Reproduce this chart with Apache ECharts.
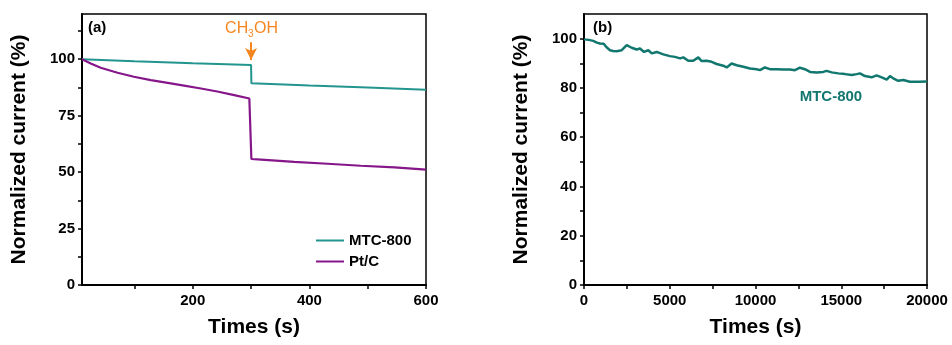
<!DOCTYPE html>
<html>
<head>
<meta charset="utf-8">
<script src="https://cdn.jsdelivr.net/npm/echarts@6/dist/echarts.min.js"></script>
<style>
  html, body { margin: 0; padding: 0; background: #fff; }
  #chart { width: 952px; height: 345px; }
</style>
</head>
<body>
<div id="chart"></div>
<script>
// panel (a): chronoamperometry with CH3OH added at 300 s
const mtcA = [[10, 100], [100, 99.1], [200, 98.2], [300, 97.4], [300.5, 89.3],
  [400, 88.3], [500, 87.4], [600, 86.5]]
const ptcA = [[10, 100], [25, 98.1], [42, 96.2], [71, 94.0], [99, 92.2], [128, 90.7],
  [157, 89.5], [185, 88.3], [214, 87.0], [242, 85.7], [271, 84.1], [297, 82.6],
  [300, 82.4], [300.5, 55.8], [317, 55.5], [374, 54.5], [431, 53.7], [488, 52.8],
  [546, 52.1], [600, 51.1]]
const xLabelsA = [200, 400, 600]
const xTicksA = [100, 200, 300, 400, 500, 600]
const yLabelsA = [0, 25, 50, 75, 100]
const yTicksA = [0, 12.5, 25, 37.5, 50, 62.5, 75, 87.5, 100, 112.5]

// panel (b): long-term stability of MTC-800
const mtcB = [[0, 99.7], [270, 99.5], [540, 99.1], [750, 98.4], [930, 98.0], [1150, 97.9],
  [1300, 96.6], [1515, 95.3], [1700, 95.0], [1900, 94.9], [2200, 95.3], [2490, 97.4],
  [2780, 96.3], [3070, 95.6], [3265, 96.0], [3500, 94.6], [3750, 95.3], [3950, 94.0],
  [4240, 94.6], [4625, 93.6], [5010, 92.9], [5300, 92.6], [5600, 92.0], [5790, 92.4],
  [6080, 91.0], [6370, 91.0], [6665, 92.4], [6860, 90.9], [7150, 91.0], [7445, 90.6],
  [7735, 89.7], [8120, 89.0], [8320, 88.3], [8610, 89.9], [8900, 89.2], [9290, 88.6],
  [9680, 87.9], [10070, 87.6], [10260, 87.2], [10550, 88.3], [10840, 87.6], [11230, 87.6],
  [11620, 87.5], [12010, 87.5], [12300, 87.2], [12590, 88.2], [12880, 87.6], [13180, 86.5],
  [13570, 86.3], [13950, 86.5], [14150, 86.9], [14440, 86.3], [14830, 85.9], [15220, 85.6],
  [15610, 85.2], [15900, 85.6], [16090, 85.9], [16380, 84.8], [16770, 84.3], [17060, 85.1],
  [17360, 84.3], [17650, 83.4], [17840, 84.8], [18030, 83.9], [18320, 82.9], [18620, 83.2],
  [19000, 82.5], [19500, 82.5], [20000, 82.6]]
const xLabelsB = [0, 5000, 10000, 15000, 20000]
const xTicksB = [0, 2500, 5000, 7500, 10000, 12500, 15000, 17500, 20000]
const yLabelsB = [0, 20, 40, 60, 80, 100]
const yTicksB = [0, 10, 20, 30, 40, 50, 60, 70, 80, 90, 100]

const FONT = 'Liberation Sans, Arial, sans-serif'
const tealA = '#23958f'
const tealB = '#12776f'
const purple = '#86178a'
const orange = '#f5861f'

function xAxis(gridIndex, min, max, labels, ticks) {
    return {
        type: 'value',
        gridIndex: gridIndex,
        min: min,
        max: max,
        name: 'Times (s)',
        nameLocation: 'middle',
        nameGap: 32,
        nameTextStyle: { fontFamily: FONT, fontWeight: 'bold', fontSize: 21, color: '#000' },
        axisLine: { lineStyle: { color: '#000', width: 2 } },
        axisTick: { customValues: ticks, length: 4, lineStyle: { color: '#000', width: 1.5 } },
        axisLabel: {
            customValues: labels,
            margin: 8,
            formatter: v => String(v),
            fontFamily: FONT, fontWeight: 'bold', fontSize: 15, color: '#000'
        },
        splitLine: { show: false }
    }
}

function yAxis(gridIndex, max, labels, ticks) {
    return {
        type: 'value',
        gridIndex: gridIndex,
        min: 0,
        max: max,
        name: 'Normalized current (%)',
        nameLocation: 'middle',
        nameGap: 52,
        nameTextStyle: { fontFamily: FONT, fontWeight: 'bold', fontSize: 21, color: '#000' },
        axisLine: { lineStyle: { color: '#000', width: 2 } },
        axisTick: { customValues: ticks, length: 4, lineStyle: { color: '#000', width: 1.5 } },
        axisLabel: { customValues: labels, margin: 7, fontFamily: FONT, fontWeight: 'bold', fontSize: 15, color: '#000' },
        splitLine: { show: false }
    }
}

const chart = echarts.init(document.getElementById('chart'))
chart.setOption({
    animation: false,
    backgroundColor: '#fff',
    grid: [
        { left: 82, right: 526, top: 14, bottom: 60, show: true, borderColor: '#000', borderWidth: 1.5 },
        { left: 584, right: 25, top: 14, bottom: 60, show: true, borderColor: '#000', borderWidth: 1.5 }
    ],
    legend: {
        data: ['MTC-800', 'Pt/C'],
        orient: 'vertical',
        left: 311,
        top: 228,
        icon: 'rect',
        itemWidth: 28,
        itemHeight: 2,
        itemGap: 6,
        textStyle: { fontFamily: FONT, fontWeight: 'bold', fontSize: 15, color: '#000' }
    },
    xAxis: [
        xAxis(0, 10, 600, xLabelsA, xTicksA),
        xAxis(1, 0, 20000, xLabelsB, xTicksB)
    ],
    yAxis: [
        yAxis(0, 120, yLabelsA, yTicksA),
        yAxis(1, 110, yLabelsB, yTicksB)
    ],
    series: [
        {
            name: 'MTC-800',
            type: 'line',
            xAxisIndex: 0,
            yAxisIndex: 0,
            data: mtcA,
            symbol: 'none',
            lineStyle: { color: tealA, width: 2 },
            itemStyle: { color: tealA },
            markLine: {
                silent: true,
                symbol: ['none', 'arrow'],
                symbolSize: [9, 12],
                label: { show: false },
                lineStyle: { color: orange, width: 2, type: 'solid' },
                data: [[{ coord: [300, 107.5] }, { coord: [300, 99.6] }]]
            }
        },
        {
            name: 'Pt/C',
            type: 'line',
            xAxisIndex: 0,
            yAxisIndex: 0,
            data: ptcA,
            symbol: 'none',
            lineStyle: { color: purple, width: 2.2 },
            itemStyle: { color: purple }
        },
        {
            name: 'MTC-800 (b)',
            type: 'line',
            xAxisIndex: 1,
            yAxisIndex: 1,
            data: mtcB,
            symbol: 'none',
            lineStyle: { color: tealB, width: 2.5 },
            itemStyle: { color: tealB }
        }
    ]
})

// text annotations, placed from the axes
const arrowTop = chart.convertToPixel({ gridIndex: 0 }, [300, 107.5])
const labelB = chart.convertToPixel({ gridIndex: 1 }, [14400, 76.3])
chart.setOption({
    graphic: [
        { type: 'text', left: 88, top: 20, style: { text: '(a)', font: 'bold 15px ' + FONT, fill: '#000' } },
        { type: 'text', left: 593, top: 20, style: { text: '(b)', font: 'bold 15px ' + FONT, fill: '#000' } },
        {
            type: 'group',
            x: arrowTop[0] - 26,
            y: arrowTop[1] - 22,
            children: [
                { type: 'text', x: 0, y: 0, style: { text: 'CH', font: '16px ' + FONT, fill: orange } },
                { type: 'text', x: 23, y: 9, style: { text: '3', font: '10px ' + FONT, fill: orange } },
                { type: 'text', x: 29, y: 0, style: { text: 'OH', font: '16px ' + FONT, fill: orange } }
            ]
        },
        {
            type: 'text',
            x: labelB[0],
            y: labelB[1],
            style: { text: 'MTC-800', font: 'bold 15px ' + FONT, fill: tealB, align: 'center', verticalAlign: 'middle' }
        }
    ]
})
</script>
</body>
</html>
